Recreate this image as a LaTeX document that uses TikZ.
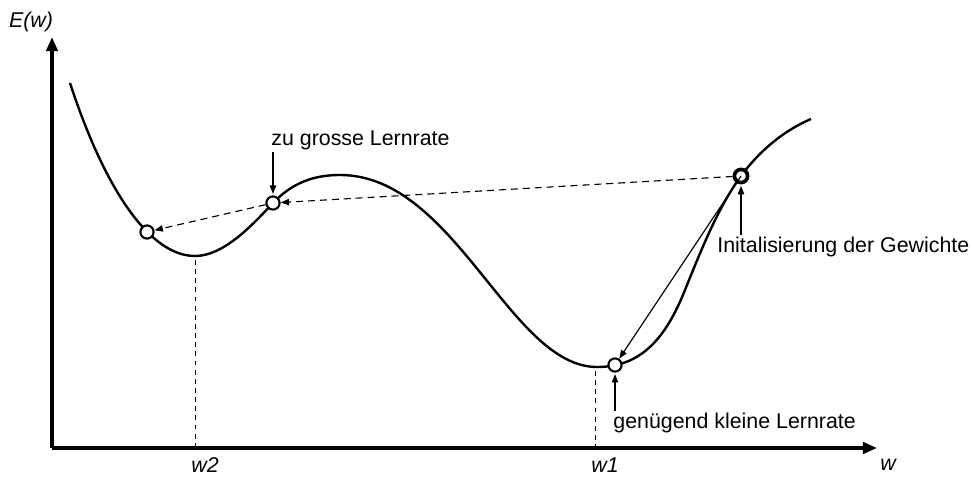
\documentclass[tikz,border=0pt]{standalone}
\usepackage{fontspec}
\setmainfont{Liberation Sans}
\usetikzlibrary{arrows.meta, positioning, calc}

\begin{document}
\begin{tikzpicture}[
    x=0.025cm, y=-0.025cm,
    axis/.style={line width=2.6pt, -{Triangle[length=10pt,width=8pt]}},
    errcurve/.style={line width=1.7pt},
    stepdot/.style={circle, draw, line width=1.5pt, fill=white,
                    minimum size=0.33cm, inner sep=0pt},
    jump/.style={line width=0.8pt, dash pattern=on 5pt off 3.5pt,
                 -{Triangle[length=6pt,width=4.5pt]}},
    pointer/.style={line width=0.8pt, -{Triangle[length=6pt,width=4.5pt]},
                    shorten >=1pt},
    guide/.style={line width=0.7pt, dash pattern=on 3.5pt off 3pt},
    note/.style={font=\fontsize{15.2}{18}\selectfont, inner sep=1.5pt},
    axlabel/.style={font=\itshape\fontsize{15.2}{18}\selectfont, inner sep=0pt}
]
    \useasboundingbox (0,0) rectangle (972,477);

    % Axes
    \coordinate (origin) at (52,448);
    \coordinate (ytop) at (52,37);
    \coordinate (xend) at (877,448);
    \draw[axis] (origin) -- (ytop);
    \draw[axis] (origin) -- (xend);
    \node[axlabel] (ew) at (31,22) {E(w)};
    \node[axlabel] (wx) at (888,465) {w};

    % Error curve
    \draw[errcurve] (70,83)
        .. controls (105,190) and (150,256) .. (195,256)
        .. controls (225,256) and (255,222) .. (273,203)
        .. controls (293,182) and (315,175) .. (340,175)
        .. controls (455,175) and (510,367) .. (597,367)
        .. controls (640,367) and (665,340) .. (685,290)
        .. controls (705,240) and (720,205) .. (741,176)
        .. controls (760,150) and (785,130) .. (811,119);

    % Minima
    \coordinate (min2) at (195,260);
    \coordinate (min1) at (595,371);
    \draw[guide] (min2) -- (min2 |- origin);
    \draw[guide] (min1) -- (min1 |- origin);
    \node[axlabel] (w2) at (205,465) {w2};
    \node[axlabel] (w1) at (605,465) {w1};

    % Steps
    \node[stepdot] (left) at (147,232) {};
    \node[stepdot] (big) at (273,203) {};
    \node[stepdot] (small) at (615,365) {};
    \node[stepdot, line width=2.6pt] (init) at (741,176) {};

    \draw[jump] (init) -- (big);
    \draw[jump] (big) -- (left);
    \draw[line width=0.8pt, -{Triangle[length=6pt,width=4.5pt]}] (init.center) -- (small);

    % Notes
    \node[note, anchor=west] (bigtext) at (269,140) {zu grosse Lernrate};
    \node[note, anchor=west] (inittext) at (715,247) {Initalisierung der Gewichte};
    \node[note, anchor=west] (smalltext) at (611,423) {genügend kleine Lernrate};

    \draw[pointer] (big |- bigtext.south) -- (big);
    \draw[pointer] (init |- inittext.north) -- (init);
    \draw[pointer] (small |- smalltext.north) -- (small);
\end{tikzpicture}
\end{document}
